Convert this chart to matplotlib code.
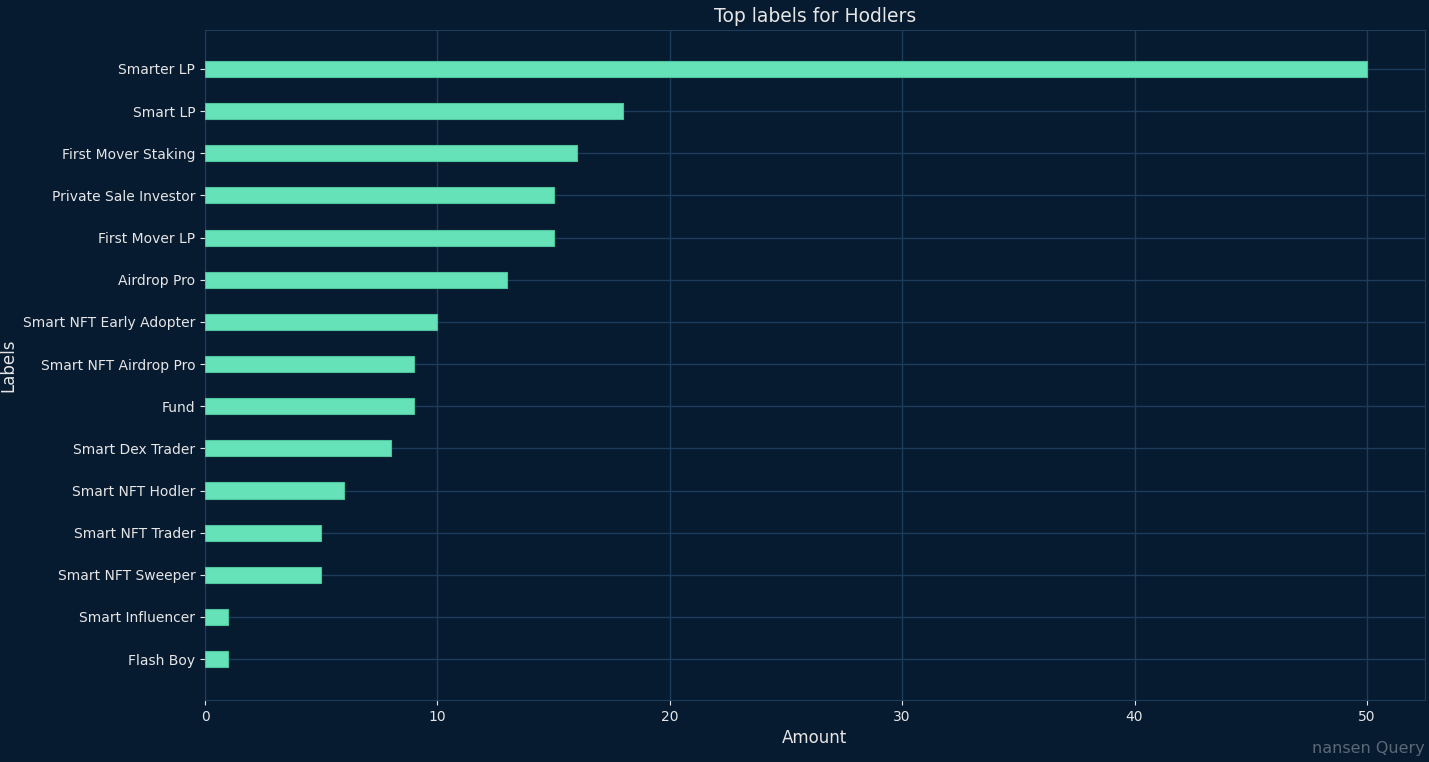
import numpy as np
import matplotlib
matplotlib.use("Agg")
import matplotlib.pyplot as plt

plt.rcParams['font.family'] = ['DejaVu Sans']

# data
labels = ["Smarter LP", "Smart LP", "First Mover Staking", "Private Sale Investor",
          "First Mover LP", "Airdrop Pro", "Smart NFT Early Adopter", "Smart NFT Airdrop Pro",
          "Fund", "Smart Dex Trader", "Smart NFT Hodler", "Smart NFT Trader",
          "Smart NFT Sweeper", "Smart Influencer", "Flash Boy"]
amounts = [50, 18, 16, 15, 15, 13, 10, 9, 9, 8, 6, 5, 5, 1, 1]

bg = "#061a30"
grid_c = "#1d3d5c"
text_c = "#e6e6e6"

fig = plt.figure(figsize=(14.29, 7.62), dpi=100, facecolor=bg)
ax = fig.add_axes([205 / 1429, 62 / 762, 1220 / 1429, 670 / 762])
ax.set_facecolor(bg)

y = np.arange(len(labels))
ax.barh(y, amounts, height=0.38, color="#66e2b8", edgecolor="#4fc49c", linewidth=0.8, zorder=3)
ax.set_yticks(y)
ax.set_yticklabels(labels)
ax.set_ylim(len(labels) - 1 + 0.97, -0.925)
ax.set_xlim(0, 52.5)
ax.set_xticks([0, 10, 20, 30, 40, 50])

ax.grid(True, color=grid_c, linewidth=1, zorder=0)
for s in ax.spines.values():
    s.set_color(grid_c)
ax.tick_params(colors=text_c, labelsize=10, length=3.5)

ax.set_title("Top labels for Hodlers", color=text_c, fontsize=13.5, pad=6)
ax.set_xlabel("Amount", color=text_c, fontsize=12, labelpad=4)
ax.set_ylabel("Labels", color=text_c, fontsize=12, labelpad=4)

fig.text(1425 / 1429, 14 / 762, "nansen Query", color="#5a6978", fontsize=11.5,
         ha="right", va="center")

fig.savefig("out.png", facecolor=bg)
